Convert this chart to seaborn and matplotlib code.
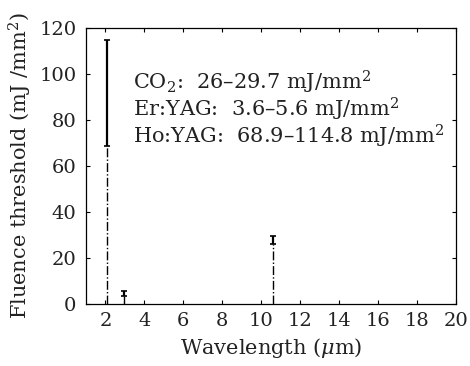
import matplotlib
matplotlib.use('Agg')
import matplotlib.pyplot as plt
import seaborn as sns
import numpy as np

# laser wavelengths (um) and fluence threshold ranges (mJ/mm^2)
lasers = ["Ho:YAG", "Er:YAG", "CO2"]
wavelength = [2.1, 2.94, 10.6]
fluence_low = [68.9, 3.6, 26.0]
fluence_high = [114.8, 5.6, 29.7]

x_ticks = [2, 4, 6, 8, 10, 12, 14, 16, 18, 20]
y_ticks = [0, 20, 40, 60, 80, 100, 120]

sns.set_theme(style="ticks")
plt.rcParams['font.family'] = ['DejaVu Serif']
plt.rcParams['mathtext.fontset'] = 'dejavuserif'
plt.rcParams['xtick.direction'] = 'in'
plt.rcParams['ytick.direction'] = 'in'

fig, ax = plt.subplots(figsize=(4.7, 3.66), dpi=100)

wl = np.array(wavelength)
lo = np.array(fluence_low)
hi = np.array(fluence_high)

# dash-dot stems from zero up to the lower threshold
ax.vlines(wl, 0, lo, colors='black', linestyles='-.', linewidth=1.0)
# solid range bars with small caps
mid = (lo + hi) / 2
ax.errorbar(wl, mid, yerr=(hi - lo) / 2, fmt='none', ecolor='black',
            elinewidth=1.6, capsize=2, capthick=1.2)

ax.set_xlim(1, 20)
ax.set_ylim(0, 120)
ax.set_xticks(x_ticks)
ax.set_yticks(y_ticks)
ax.tick_params(axis='both', labelsize=14, length=3, width=0.8, color='black',
               top=True, right=True, labelcolor='#222222')
ax.tick_params(axis='y', pad=7)
ax.tick_params(axis='x', pad=6)

for s in ax.spines.values():
    s.set_linewidth(0.9)
    s.set_color('black')

ax.set_xlabel("Wavelength ($\\mu$m)", fontsize=15, color='#222222', labelpad=4)
ax.set_ylabel("Fluence threshold (mJ /mm$^2$)", fontsize=15, color='#222222', labelpad=4)

ax.text(3.4, 96.5, "CO$_2$:  26\u201329.7 mJ/mm$^2$", fontsize=15, va='center', color='#222222')
ax.text(3.4, 84.5, "Er:YAG:  3.6\u20135.6 mJ/mm$^2$", fontsize=15, va='center', color='#222222')
ax.text(3.4, 73, "Ho:YAG:  68.9\u2013114.8 mJ/mm$^2$", fontsize=15, va='center', color='#222222')

fig.subplots_adjust(left=0.183, right=0.97, top=0.923, bottom=0.17)
fig.savefig("out.png", dpi=100, facecolor='white')
plt.close(fig)
